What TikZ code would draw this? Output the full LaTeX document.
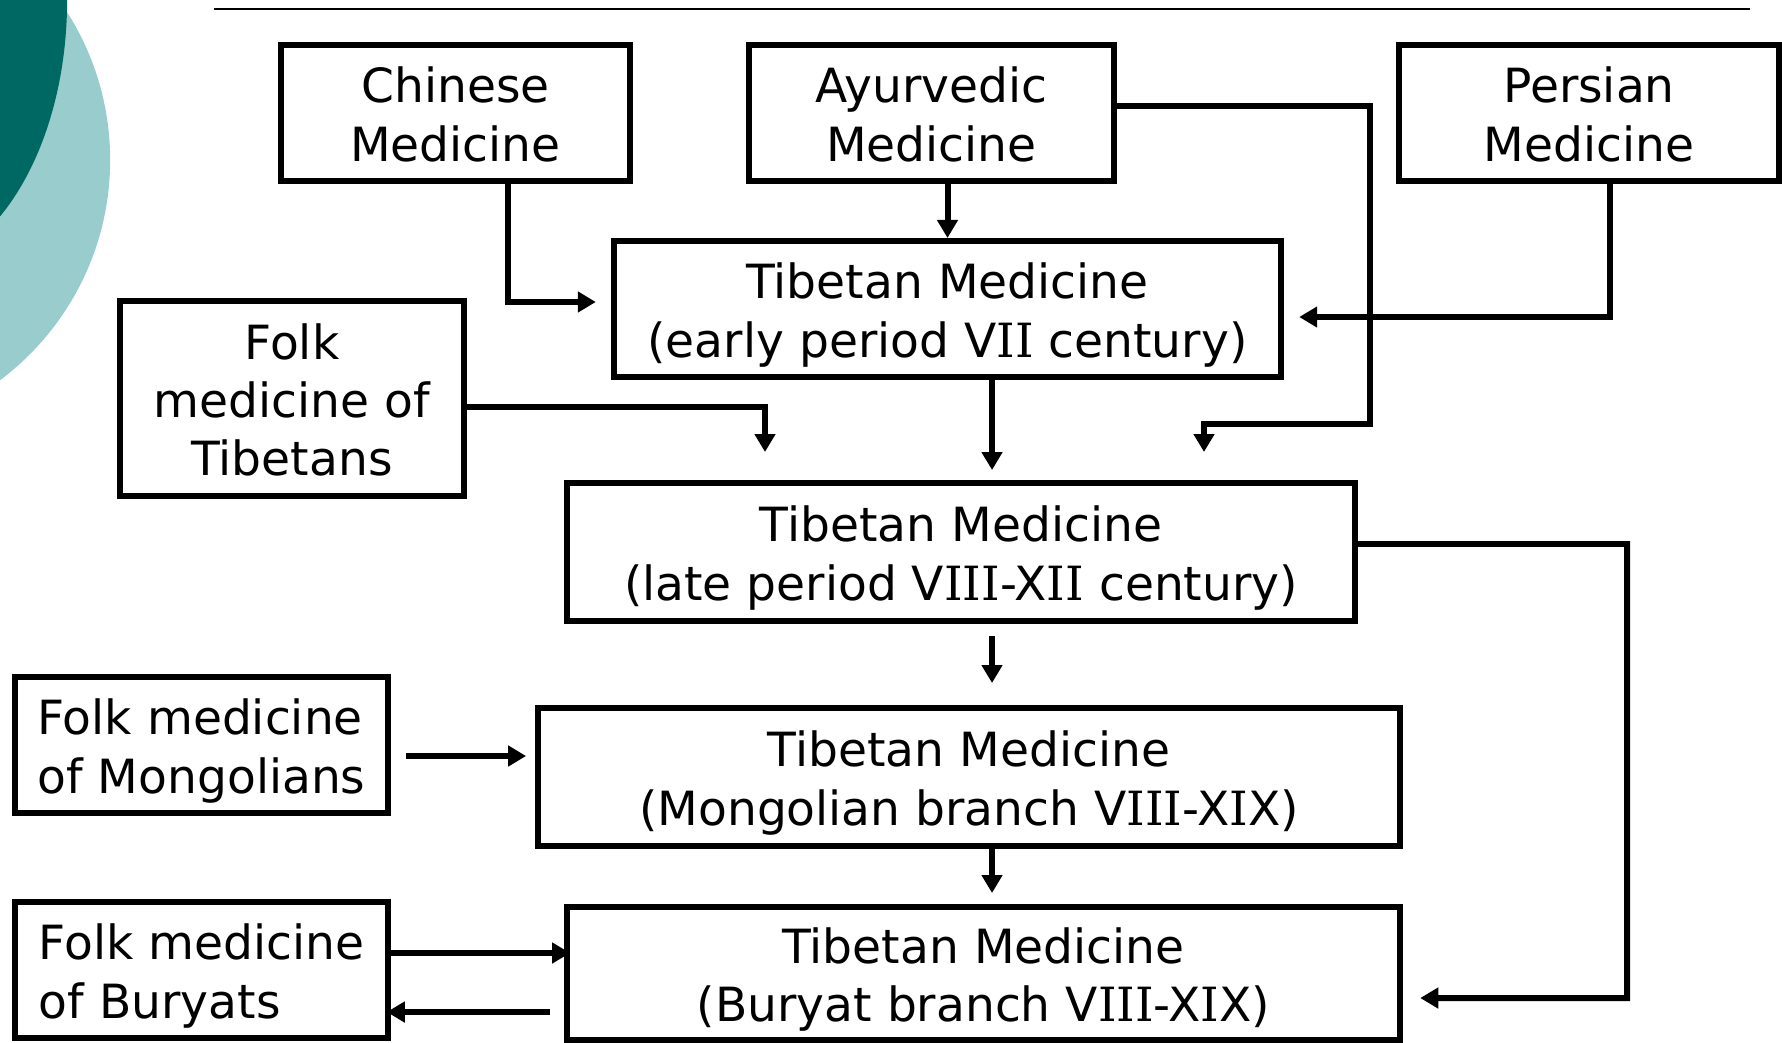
\documentclass[tikz,border=0pt]{standalone}
\usepackage{fontspec}
\setmainfont{DejaVu Sans}
\newfontfamily\slabfont{DejaVu Serif}
\usetikzlibrary{arrows.meta}

% roman numeral I with serifs, line struts
\newcommand\sI{{\slabfont I}}
\newcommand\topstrut{\rule{0pt}{14.1pt}}
\newcommand\botstrut{\rule[-3.3pt]{0pt}{3.3pt}}

\begin{document}
\begin{tikzpicture}[x=0.01cm, y=-0.01cm,
	medbox/.style={draw, line width=1.7pt, align=center, inner sep=0pt,
		minimum height=1.36cm, font=\fontsize{13.4pt}{16.5pt}\selectfont},
	arr/.style={line width=1.7pt, -{Triangle[length=0.18cm, width=0.2cm]}}]
	\useasboundingbox (0,0) rectangle (1782,1042);
	
	% corner decoration
	\begin{scope}
		\clip (0,0) rectangle (1782,1042);
		\fill[fill={rgb,255:red,153;green,204;blue,205}] (-165,160) circle [radius=2.75cm];
		\fill[fill={rgb,255:red,0;green,104;blue,98}] (-100,0) ellipse [x radius=1.67cm, y radius=2.7cm];
	\end{scope}
	\draw[line width=0.85pt] (214,9) -- (1750,9);
	
	% sources
	\node[medbox, minimum width=3.49cm] (chinese) at (455.5,113) {\topstrut Chinese\\Medicine\botstrut};
	\node[medbox, minimum width=3.65cm] (ayur) at (931.5,113) {\topstrut Ayurvedic\\Medicine\botstrut};
	\node[medbox, minimum width=3.80cm] (persian) at (1589,113) {\topstrut Persian\\Medicine\botstrut};
	\node[medbox, minimum width=3.44cm, minimum height=1.95cm] (folktib) at (292,398.5) {\topstrut Folk\\medicine of\\Tibetans\botstrut};
	\node[medbox, minimum width=3.73cm, align=left] (folkmon) at (201.5,745) {\topstrut Folk medicine\\of Mongolians\botstrut};
	\node[medbox, minimum width=3.73cm, align=left] (folkbur) at (201.5,970) {\topstrut Folk medicine\\of Buryats\botstrut};
	
	% tibetan medicine
	\node[medbox, minimum width=6.67cm] (early) at (947.5,309) {\topstrut Tibetan Medicine\\(early period V\sI\sI\ century)\botstrut};
	\node[medbox, minimum width=7.88cm, minimum height=1.38cm] (late) at (961,552) {\topstrut Tibetan Medicine\\(late period V\sI\sI\sI-X\sI\sI\ century)\botstrut};
	\node[medbox, minimum width=8.62cm, minimum height=1.38cm] (mongol) at (969,777) {\topstrut Tibetan Medicine\\(Mongolian branch V\sI\sI\sI-X\sI X)\botstrut};
	\node[medbox, minimum width=8.33cm, minimum height=1.33cm] (buryat) at (983.5,973.5) {\topstrut Tibetan Medicine\\(Buryat branch V\sI\sI\sI-X\sI X)\botstrut};
	
	\coordinate (ayurturn) at (1370,424);
	\coordinate (ayurend) at (1204,452);
	\coordinate (tibend) at (765,452);
	\coordinate (lateturn) at (1627,998);
	
	\draw[arr] ([xshift=0.525cm]chinese.south) |- ([xshift=-0.15cm, yshift=0.07cm]early.west);
	\draw[arr] (ayur.south -| early.north) -- (early.north);
	\draw[arr] ([xshift=0.21cm]persian.south) |- ([xshift=0.15cm, yshift=-0.08cm]early.east);
	\draw[arr] ([yshift=0.07cm]ayur.east) -| (ayurturn) -| (ayurend);
	\draw[arr] ([yshift=-0.085cm]folktib.east) -| (tibend);
	\draw[arr] ([xshift=0.445cm]early.south) -- ++(0,90);
	\draw[arr] ([xshift=0.31cm, yshift=-0.12cm]late.south) -- ++(0,47);
	\draw[arr] ([xshift=0.15cm, yshift=-0.11cm]folkmon.east) -- ++(120,0);
	\draw[arr] ([xshift=0.23cm]mongol.south) -- ++(0,44);
	\draw[arr] ([yshift=0.17cm]folkbur.east) -- ++(179,0);
	\draw[arr] ([xshift=-0.14cm, yshift=-0.385cm]buryat.west) -- ++(-163,0);
	\draw[arr] ([yshift=0.08cm]late.east) -| (lateturn) -- ([xshift=0.17cm, yshift=-0.245cm]buryat.east);
\end{tikzpicture}
\end{document}
